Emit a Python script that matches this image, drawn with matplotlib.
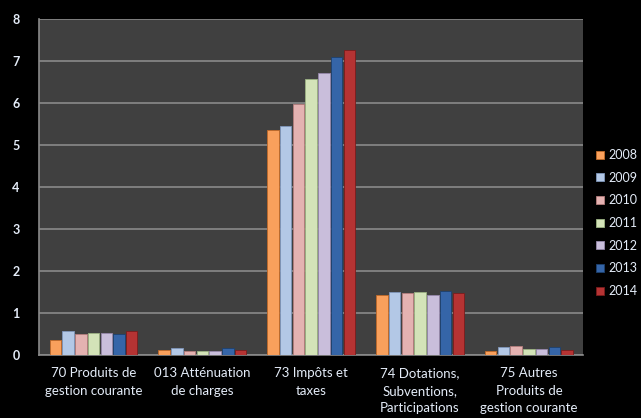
import numpy as np
import matplotlib
matplotlib.use("Agg")
import matplotlib.pyplot as plt
from matplotlib.patches import Patch

categories = ["70 Produits de\ngestion courante", "013 Atténuation\nde charges",
              "73 Impôts et\ntaxes", "74 Dotations,\nSubventions,\nParticipations",
              "75 Autres\nProduits de\ngestion courante"]
years = ["2008", "2009", "2010", "2011", "2012", "2013", "2014"]
values = {
    "2008": [0.36, 0.12, 5.36, 1.43, 0.09],
    "2009": [0.57, 0.17, 5.45, 1.50, 0.19],
    "2010": [0.50, 0.09, 5.98, 1.47, 0.20],
    "2011": [0.52, 0.09, 6.57, 1.50, 0.15],
    "2012": [0.52, 0.09, 6.71, 1.43, 0.15],
    "2013": [0.50, 0.16, 7.10, 1.52, 0.19],
    "2014": [0.57, 0.12, 7.26, 1.47, 0.11],
}
colors = ["#f9a05c", "#b3c8e6", "#e4b2b1", "#d3e3b8", "#c9bedb", "#3565a8", "#b53333"]
edges = ["#c06a28", "#7f97bb", "#b47d7c", "#9bb282", "#9688ab", "#1d416f", "#7a1c1c"]

plt.rcParams['font.family'] = ['Lato', 'DejaVu Sans']
txt = "#e4ecf8"

fig = plt.figure(figsize=(6.41, 4.18), dpi=100, facecolor="black")
ax = fig.add_axes([0.061, 0.151, 0.849, 0.804])
ax.set_facecolor("#404040")

x = np.arange(len(categories))
slot = 0.117
for i, y in enumerate(years):
    ax.bar(x + (i - 3) * slot, values[y], width=slot * 0.9, color=colors[i],
           edgecolor=edges[i], linewidth=0.6, zorder=3)

ax.set_xlim(-0.5, len(categories) - 0.5)
ax.set_ylim(0, 8)
ax.set_yticks(range(0, 9))
ax.grid(axis="y", color="#8a8a8a", linewidth=1.2, zorder=0)
ax.set_xticks(x)
ax.set_xticklabels(categories, color=txt, fontsize=9.5, linespacing=1.55, va="top")
ax.tick_params(axis="x", length=0, pad=9)
ax.tick_params(axis="y", length=0, pad=14, labelcolor=txt, labelsize=9)
for lab in ax.get_yticklabels():
    lab.set_fontweight("bold")
for s in ["top", "right"]:
    ax.spines[s].set_visible(False)
for s in ["left", "bottom"]:
    ax.spines[s].set_color("#8a8a8a")
    ax.spines[s].set_linewidth(1.2)

handles = [Patch(facecolor=c, edgecolor=e, linewidth=0.6) for c, e in zip(colors, edges)]
fig.legend(handles, years, loc="upper left", bbox_to_anchor=(0.922, 0.655),
           frameon=False, fontsize=9, labelcolor=txt, handlelength=0.6,
           handleheight=0.6, handletextpad=0.4, labelspacing=0.85, borderaxespad=0)

fig.savefig("out.png", dpi=100, facecolor="black")
